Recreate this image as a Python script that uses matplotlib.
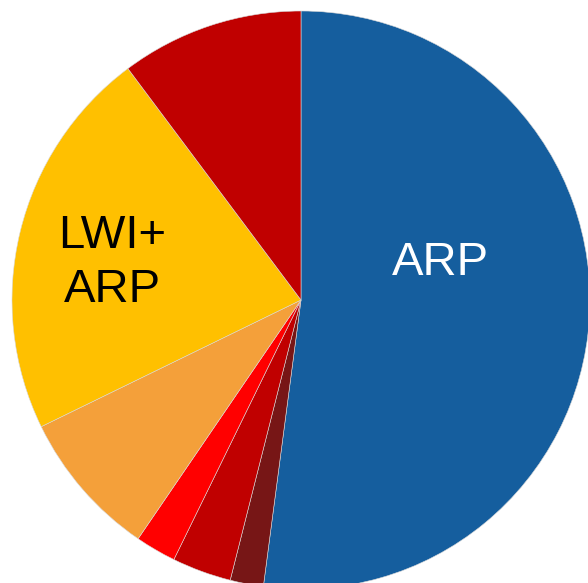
import matplotlib
matplotlib.use('Agg')
import matplotlib.pyplot as plt

# pie shares (percent), clockwise from 12 o'clock
labels = ['ARP', '', '', '', '', 'LWI+\nARP', '']
values = [52.08, 1.86, 3.31, 2.28, 8.25, 22.0, 10.22]
colors = ['#155e9e', '#771616', '#c00000', '#ff0000', '#f4a03a', '#ffc000', '#c00000']
label_colors = ['white', 'black', 'black', 'black', 'black', 'black', 'black']

plt.rcParams['font.family'] = ['Liberation Sans', 'DejaVu Sans']

fig = plt.figure(figsize=(5.88, 5.83), dpi=100)
ax = fig.add_axes([0, 0, 1, 1])

wedges, _ = ax.pie(values, colors=colors, startangle=90, counterclock=False,
                   radius=1.0, wedgeprops=dict(edgecolor='#d8d8d8', linewidth=0.4))

# label positions for the two named slices
ax.text(0.481, 0.128, labels[0], color=label_colors[0], fontsize=34,
        ha='center', va='center')
ax.text(-0.654, 0.128, labels[5], color=label_colors[5], fontsize=34,
        ha='center', va='center', linespacing=1.29)

ax.set_xlim(-301 / 289, 287 / 289)
ax.set_ylim((300 - 583) / 289, 300 / 289)
ax.set_aspect('equal')
ax.axis('off')

fig.savefig('out.png', dpi=100)
